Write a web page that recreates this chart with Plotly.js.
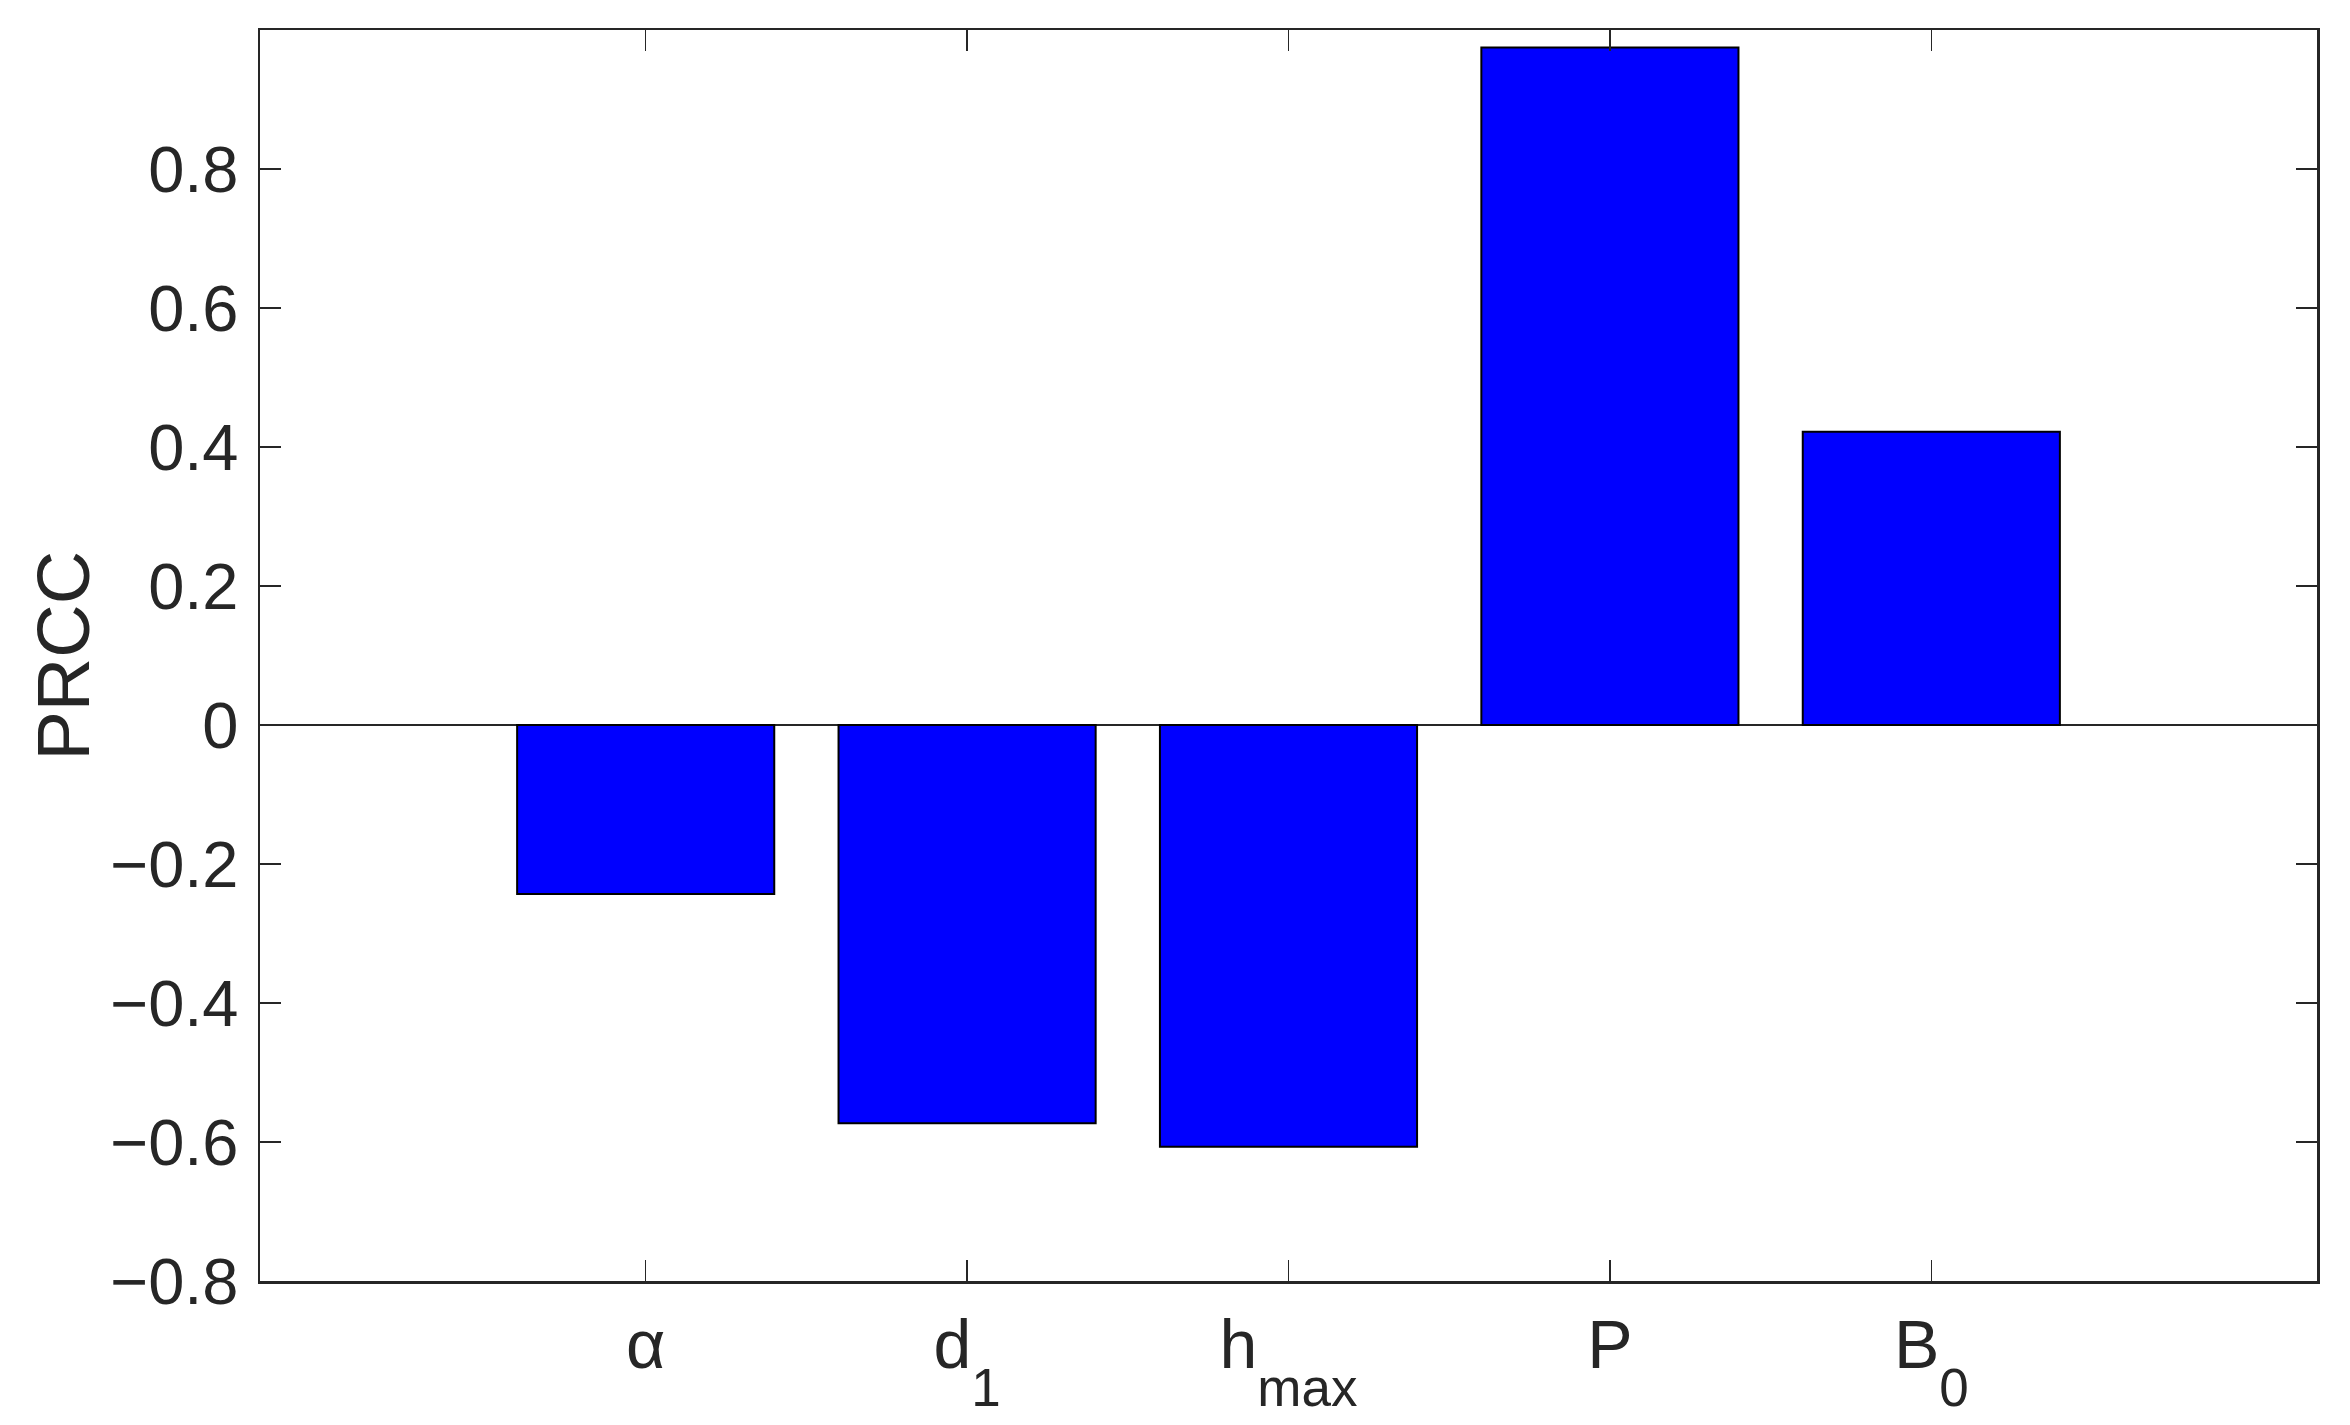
<!DOCTYPE html>
<html>
<head>
<meta charset="utf-8">
<script src="https://cdn.plot.ly/plotly-3.0.1.min.js"></script>
<style>html,body{margin:0;padding:0;background:#fff;}#chart{width:2350px;height:1425px;}</style>
</head>
<body>
<div id="chart"></div>
<script>
const positions = [1, 2, 3, 4, 5];
const subStyle = 'font-size:53px;baseline-shift:-24px';
const paramLabels = ['α', 'd<sub><span style="' + subStyle + '">1</span></sub>', 'h<sub><span style="' + subStyle + '">max</span></sub>', 'P', 'B<sub><span style="' + subStyle + '">0</span></sub>'];
const prccValues = [-0.243, -0.573, -0.607, 0.975, 0.422];
const yTickVals = [-0.8, -0.6, -0.4, -0.2, 0, 0.2, 0.4, 0.6, 0.8];
const yTickText = ['−0.8', '−0.6', '−0.4', '−0.2', '0', '0.2', '0.4', '0.6', '0.8'];
const yTitle = 'PRCC';

const axisColor = '#262626';
const fam = '"Liberation Sans", Arial, Helvetica, sans-serif';

const trace = {
  type: 'bar',
  x: positions,
  y: prccValues,
  width: 0.8,
  marker: {color: '#0000ff', line: {color: '#000000', width: 2}},
  hoverinfo: 'skip'
};

const layout = {
  width: 2350,
  height: 1425,
  margin: {l: 260, r: 33, t: 30, b: 144, pad: 0},
  paper_bgcolor: '#ffffff',
  plot_bgcolor: '#ffffff',
  showlegend: false,
  font: {family: fam, color: axisColor, size: 66},
  xaxis: {
    range: [-0.2, 6.2],
    tickvals: positions,
    ticktext: paramLabels,
    ticks: 'inside',
    ticklen: 21,
    tickwidth: 1.5,
    tickcolor: axisColor,
    showline: true,
    linecolor: axisColor,
    linewidth: 2.5,
    mirror: 'ticks',
    showgrid: false,
    zeroline: false,
    tickfont: {family: fam, size: 68, color: axisColor},
    ticklabelstandoff: 3
  },
  yaxis: {
    range: [-0.8, 1.0],
    tickvals: yTickVals,
    ticktext: yTickText,
    ticks: 'inside',
    ticklen: 21,
    tickwidth: 1.5,
    tickcolor: axisColor,
    showline: true,
    linecolor: axisColor,
    linewidth: 2.5,
    mirror: 'ticks',
    showgrid: false,
    zeroline: true,
    zerolinecolor: axisColor,
    zerolinewidth: 1.5,
    tickfont: {family: fam, size: 65, color: axisColor},
    ticklabelstandoff: 6
  },
  annotations: [{
    text: yTitle,
    xref: 'paper', yref: 'paper',
    x: 0, y: 0.5,
    xanchor: 'center', yanchor: 'middle',
    xshift: -197,
    textangle: -90,
    showarrow: false,
    font: {family: fam, size: 74, color: axisColor}
  }],
  bargap: 0.2
};

Plotly.newPlot('chart', [trace], layout, {displayModeBar: false, staticPlot: true});
</script>
</body>
</html>
